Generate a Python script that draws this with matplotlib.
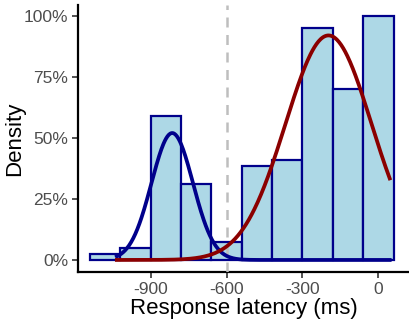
import numpy as np
import matplotlib
matplotlib.use('Agg')
import matplotlib.pyplot as plt
from matplotlib.ticker import PercentFormatter

plt.rcParams['font.family'] = ['Liberation Sans', 'DejaVu Sans']
plt.rcParams['axes.unicode_minus'] = False

# histogram bins (ms) and scaled heights
bin_centers = [-1080, -960, -840, -720, -600, -480, -360, -240, -120, 0]
bin_heights = [0.025, 0.049, 0.59, 0.31, 0.075, 0.385, 0.41, 0.95, 0.70, 1.00]
bin_width = 120

# fitted normal curves (peak height, mean, sd) for the two groups
fast_fit = (0.52, -815, 82)
slow_fit = (0.92, -197, 170)
curve_range = (-1034, 45)
cutoff = -600

xticks = [-900, -600, -300, 0]
yticks = [0, 0.25, 0.5, 0.75, 1.0]


def scaled_normal(x, peak, mu, sd):
    return peak * np.exp(-0.5 * ((x - mu) / sd) ** 2)


fig = plt.figure(figsize=(4.10, 3.28), dpi=100)
ax = fig.add_axes([0.190, 0.171, 0.808, 0.814])

ax.bar(bin_centers, bin_heights, width=bin_width, color='#ADD8E6',
       edgecolor='#00008B', linewidth=1.6, zorder=2)

ax.axvline(cutoff, color='#BEBEBE', linestyle=(0, (4, 3)), linewidth=1.8, zorder=3)

xs = np.linspace(curve_range[0], curve_range[1], 400)
ax.plot(xs, scaled_normal(xs, *fast_fit), color='#00008B', linewidth=2.7, zorder=4)
ax.plot(xs, scaled_normal(xs, *slow_fit), color='#8B0000', linewidth=2.7, zorder=4)

ax.set_xlim(-1188, 122)
ax.set_ylim(-0.049, 1.045)
ax.set_xticks(xticks)
ax.set_yticks(yticks)
ax.yaxis.set_major_formatter(PercentFormatter(1.0, decimals=0))

for side in ['top', 'right']:
    ax.spines[side].set_visible(False)
for side in ['left', 'bottom']:
    ax.spines[side].set_linewidth(1.6)
    ax.spines[side].set_color('black')

ax.tick_params(axis='both', which='major', length=4, width=1.2, color='#333333',
               labelsize=12.5, labelcolor='#4D4D4D', pad=3)

ax.set_xlabel('Response latency (ms)', fontsize=16, color='black', labelpad=1)
ax.set_ylabel('Density', fontsize=16, color='black')
ax.yaxis.set_label_coords(-0.158, 0.5)

fig.savefig('out.png', dpi=100)
